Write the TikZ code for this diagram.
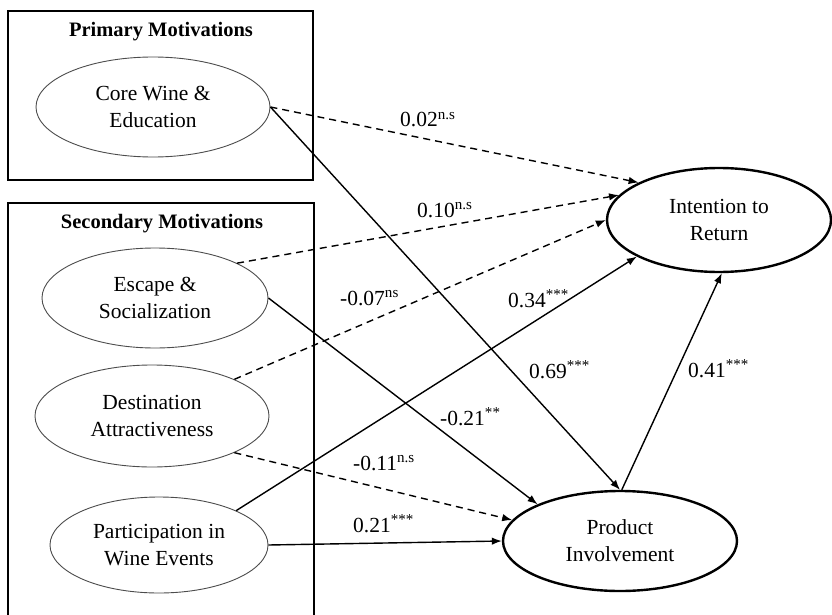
\documentclass[tikz,border=0pt]{standalone}
\usepackage{fontspec}
\setmainfont{Liberation Serif}
\usetikzlibrary{shapes.geometric,arrows.meta}
\begin{document}
\begin{tikzpicture}[x=1pt,y=-1pt,
 font=\fontsize{21.5}{27}\selectfont,
 lat/.style={ellipse,draw=black!70,line width=0.9pt,inner sep=0pt,align=center},
 outc/.style={ellipse,draw,line width=2.4pt,inner sep=0pt,align=center},
 box/.style={draw,line width=2.6pt},
 rel/.style={line width=1.4pt,-{Latex[length=10pt,width=7.5pt]}},
 ns/.style={rel,dash pattern=on 7pt off 5pt},
 lab/.style={anchor=base west,inner sep=0pt},
 ttl/.style={font=\fontsize{20.5}{24}\selectfont\bfseries}]
\useasboundingbox (0,0) rectangle (832,615);
\fill[white] (0,0) rectangle (832,615);
\draw[box] (8,11) rectangle (313,180);
\draw[box] (8,203) rectangle (314,640);
\node[ttl] (pm) at (161,32) {Primary Motivations};
\node[ttl] (sm) at (162,224) {Secondary Motivations};
\node[lat,minimum width=234pt,minimum height=100pt] (cw) at (153,107) {Core Wine \&\\Education};
\node[lat,minimum width=226pt,minimum height=100pt] (esc) at (155,298) {Escape \&\\Socialization};
\node[lat,minimum width=234pt,minimum height=102pt] (dest) at (152,416) {Destination\\Attractiveness};
\node[lat,minimum width=218pt,minimum height=96pt] (part) at (159,545) {Participation in\\Wine Events};
\node[outc,minimum width=224pt,minimum height=104pt] (itr) at (719,220) {Intention to\\Return};
\node[outc,minimum width=234pt,minimum height=100pt] (pi) at (620,541) {Product\\Involvement};
\draw[ns] (cw.east) -- (itr.155.5);
\draw[rel] (cw.east) -- (pi.90);
\draw[ns] (esc.23) -- (itr.166.6);
\draw[rel] (esc.east) -- (pi.156.6);
\draw[ns] (dest.24) -- (itr.180);
\draw[ns] (dest.-24) -- (pi.169);
\draw[rel] (part.24.5) -- (itr.204.5);
\draw[rel] (part.east) -- (pi.west);
\draw[rel] (pi.88) -- (itr.273);
\node[lab] (l1) at (400,127) {0.02\textsuperscript{n.s}};
\node[lab] (l2) at (417,217) {0.10\textsuperscript{n.s}};
\node[lab] (l3) at (340,305) {-0.07\textsuperscript{ns}};
\node[lab] (l4) at (508,307) {0.34\textsuperscript{***}};
\node[lab] (l5) at (529,378) {0.69\textsuperscript{***}};
\node[lab] (l6) at (440,425) {-0.21\textsuperscript{**}};
\node[lab] (l7) at (353,470) {-0.11\textsuperscript{n.s}};
\node[lab] (l8) at (353,532) {0.21\textsuperscript{***}};
\node[lab] (l9) at (688,377) {0.41\textsuperscript{***}};
\end{tikzpicture}
\end{document}
